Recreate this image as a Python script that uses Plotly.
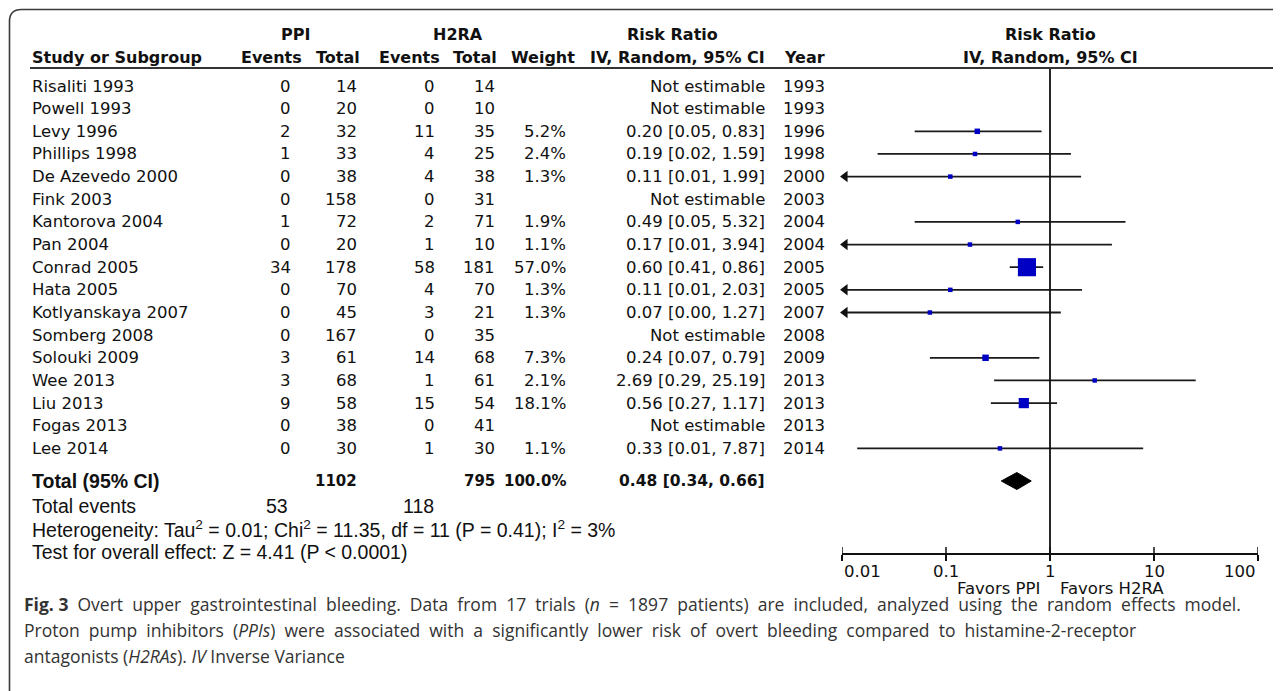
import math
import plotly.graph_objects as go

# page body adds an 8px margin; figure is sized to fill the rest of the 1281x691 window
OX, OY = 8, 8
W, H = 1281 - OX, 691 - OY

# ---------------- data ----------------
studies = ["Risaliti 1993", "Powell 1993", "Levy 1996", "Phillips 1998", "De Azevedo 2000",
           "Fink 2003", "Kantorova 2004", "Pan 2004", "Conrad 2005", "Hata 2005",
           "Kotlyanskaya 2007", "Somberg 2008", "Solouki 2009", "Wee 2013", "Liu 2013",
           "Fogas 2013", "Lee 2014"]
ppi_events = [0, 0, 2, 1, 0, 0, 1, 0, 34, 0, 0, 0, 3, 3, 9, 0, 0]
ppi_total = [14, 20, 32, 33, 38, 158, 72, 20, 178, 70, 45, 167, 61, 68, 58, 38, 30]
h2ra_events = [0, 0, 11, 4, 4, 0, 2, 1, 58, 4, 3, 0, 14, 1, 15, 0, 1]
h2ra_total = [14, 10, 35, 25, 38, 31, 71, 10, 181, 70, 21, 35, 68, 61, 54, 41, 30]
weights = [None, None, 5.2, 2.4, 1.3, None, 1.9, 1.1, 57.0, 1.3, 1.3, None, 7.3, 2.1, 18.1, None, 1.1]
rr = [None, None, 0.20, 0.19, 0.11, None, 0.49, 0.17, 0.60, 0.11, 0.07, None, 0.24, 2.69, 0.56, None, 0.33]
ci_low = [None, None, 0.05, 0.022, 0.006, None, 0.05, 0.007, 0.41, 0.006, 0.004, None, 0.07, 0.29, 0.27, None, 0.014]
ci_high = [None, None, 0.83, 1.59, 1.99, None, 5.32, 3.94, 0.86, 2.03, 1.27, None, 0.79, 25.19, 1.17, None, 7.87]
years = [1993, 1993, 1996, 1998, 2000, 2003, 2004, 2004, 2005, 2005, 2007, 2008, 2009, 2013, 2013, 2013, 2014]

total_ppi, total_h2ra = 1102, 795
total_weight = 100.0
pooled_rr, pooled_lo, pooled_hi = 0.48, 0.34, 0.66
events_ppi, events_h2ra = 53, 118
tick_vals = [0.01, 0.1, 1, 10, 100]
tick_text = ["0.01", "0.1", "1", "10", "100"]

# ---------------- layout helpers (window pixel coordinates) ----------------
ROW0, DY = 86, 22.65
row_y = [ROW0 + DY * i for i in range(len(studies))]
Y_TOTAL = row_y[-1] + 32.6
Y_EVENTS, Y_HET, Y_TEST = Y_TOTAL + 25, Y_TOTAL + 48, Y_TOTAL + 71
Y_HEAD1, Y_HEAD2, Y_RULE = 34, 57, 68
AXIS_Y = 554
X_MIN, X_MAX = 842, 1258

TXT = "#111111"
FONT = "DejaVu Sans"
FS = 16.5
FSB = 16
NARROW = "Liberation Sans"
NFS = 19.5


def px(x):
    return (x - OX) / W


annotations = []


def txt(x, y, s, anchor="right", bold=False, family=FONT, size=FS, color=TXT, xref="paper"):
    if bold:
        s = "<b>" + s + "</b>"
    annotations.append(dict(x=px(x) if xref == "paper" else x, y=y, xref=xref, yref="y", text=s,
                            showarrow=False, xanchor=anchor, yanchor="middle",
                            font=dict(family=family, size=size, color=color)))


# column right edges
C_EV1, C_TOT1, C_EV2, C_TOT2, C_W, C_RR, C_YR = 293, 359, 437, 497, 568, 767, 827
C_NAME = 30

# headers
txt(295, Y_HEAD1, "PPI", "center", True, size=FSB)
txt(458, Y_HEAD1, "H2RA", "center", True, size=FSB)
txt(673, Y_HEAD1, "Risk Ratio", "center", True, size=FSB)
txt(1050, Y_HEAD1, "Risk Ratio", "center", True, size=FSB)
txt(C_NAME, Y_HEAD2, "Study or Subgroup", "left", True, size=FSB)
txt(304, Y_HEAD2, "Events", "right", True, size=FSB)
txt(362, Y_HEAD2, "Total", "right", True, size=FSB)
txt(442, Y_HEAD2, "Events", "right", True, size=FSB)
txt(499, Y_HEAD2, "Total", "right", True, size=FSB)
txt(577, Y_HEAD2, "Weight", "right", True, size=FSB)
txt(C_RR, Y_HEAD2, "IV, Random, 95% CI", "right", True, size=FSB)
txt(C_YR, Y_HEAD2, "Year", "right", True, size=FSB)
txt(1050, Y_HEAD2, "IV, Random, 95% CI", "center", True, size=FSB)

# rows
for i, name in enumerate(studies):
    y = row_y[i]
    txt(C_NAME, y, name, "left")
    txt(C_EV1, y, str(ppi_events[i]))
    txt(C_TOT1, y, str(ppi_total[i]))
    txt(C_EV2, y, str(h2ra_events[i]))
    txt(C_TOT2, y, str(h2ra_total[i]))
    if weights[i] is not None:
        txt(C_W, y, f"{weights[i]:.1f}%")
        txt(C_RR, y, f"{rr[i]:.2f} [{ci_low[i]:.2f}, {ci_high[i]:.2f}]")
    else:
        txt(C_RR, y, "Not estimable")
    txt(C_YR, y, str(years[i]))

# totals
txt(C_NAME, Y_TOTAL, "Total (95% CI)", "left", True, family=NARROW, size=NFS)
txt(C_TOT1, Y_TOTAL, str(total_ppi), "right", True, size=15)
txt(C_TOT2, Y_TOTAL, str(total_h2ra), "right", True, size=15)
txt(C_W, Y_TOTAL, f"{total_weight:.1f}%", "right", True, size=15)
txt(C_RR, Y_TOTAL, f"{pooled_rr:.2f} [{pooled_lo:.2f}, {pooled_hi:.2f}]", "right", True, size=15.5)
txt(C_NAME, Y_EVENTS, "Total events", "left", family=NARROW, size=NFS)
txt(290, Y_EVENTS, str(events_ppi), "right", family=NARROW, size=NFS)
txt(436, Y_EVENTS, str(events_h2ra), "right", family=NARROW, size=NFS)
txt(C_NAME, Y_HET, "Heterogeneity: Tau<sup>2</sup> = 0.01; Chi<sup>2</sup> = 11.35, df = 11 (P = 0.41); I<sup>2</sup> = 3%",
    "left", family=NARROW, size=NFS)
txt(C_NAME, Y_TEST, "Test for overall effect: Z = 4.41 (P < 0.0001)", "left", family=NARROW, size=NFS)

# axis tick labels (end labels are aligned inward, as in the original);
# annotation x on a log axis is given in log10 units
Y_TICKLAB = 571
for k, (tv, tt) in enumerate(zip(tick_vals, tick_text)):
    anc = "left" if k == 0 else ("right" if k == len(tick_vals) - 1 else "center")
    txt(math.log10(tv), Y_TICKLAB, tt, anc, xref="x")

# favours labels
txt(1042, 588, "Favors PPI", "right")
txt(1058, 588, "Favors H2RA", "left")

# caption (first two lines justified in the original: widen word gaps)
CAP = "Open Sans"
CAPC = "#333333"
CFS = 17.5


def justify(s):
    return s.replace(" ", " &nbsp;")


txt(22, 604, justify("<b>Fig.</b>") + " " + justify("<b>3</b> Overt upper gastrointestinal bleeding. Data from 17 trials (<i>n</i> = 1897 patients) are included, analyzed using the random effects model."),
    "left", family=CAP, size=CFS, color=CAPC)
txt(22, 630, justify("Proton pump inhibitors (<i>PPIs</i>) were associated with a significantly lower risk of overt bleeding compared to histamine-2-receptor"),
    "left", family=CAP, size=CFS, color=CAPC)
txt(22, 656, "antagonists (<i>H2RAs</i>). <i>IV</i> Inverse Variance",
    "left", family=CAP, size=CFS, color=CAPC)

# ---------------- traces ----------------
fig = go.Figure()
est_idx = [i for i in range(len(studies)) if rr[i] is not None]

# CI lines
lx, ly = [], []
for i in est_idx:
    lo = max(ci_low[i], tick_vals[0])
    lx += [lo, ci_high[i], None]
    ly += [row_y[i], row_y[i], None]
fig.add_trace(go.Scatter(x=lx, y=ly, mode="lines", line=dict(color="#1a1a1a", width=1.8),
                         hoverinfo="skip", showlegend=False))

# arrows for truncated CIs
ax_ = [tick_vals[0] * 1.07 for i in est_idx if ci_low[i] < tick_vals[0]]
ay_ = [row_y[i] for i in est_idx if ci_low[i] < tick_vals[0]]
fig.add_trace(go.Scatter(x=ax_, y=ay_, mode="markers",
                         marker=dict(symbol="triangle-left", size=10, color="#111111", opacity=1),
                         cliponaxis=False, hoverinfo="skip", showlegend=False))

# squares
sizes = [max(4.5, 2.4 * weights[i] ** 0.5) for i in est_idx]
fig.add_trace(go.Scatter(x=[rr[i] for i in est_idx], y=[row_y[i] for i in est_idx], mode="markers",
                         marker=dict(symbol="square", size=sizes, color="#0000c4", opacity=1,
                                     line=dict(width=0)),
                         cliponaxis=False, hoverinfo="skip", showlegend=False))

# pooled diamond
DH = 8.5
fig.add_trace(go.Scatter(x=[pooled_lo, pooled_rr, pooled_hi, pooled_rr, pooled_lo],
                         y=[Y_TOTAL, Y_TOTAL - DH, Y_TOTAL, Y_TOTAL + DH, Y_TOTAL],
                         mode="lines", fill="toself", fillcolor="#000000",
                         line=dict(color="#000000", width=1), hoverinfo="skip", showlegend=False))

# ---------------- shapes ----------------
shapes = []
shapes.append(dict(type="line", xref="x", yref="y", x0=1, x1=1, y0=Y_RULE, y1=AXIS_Y,
                   line=dict(color="#111111", width=1.8)))
shapes.append(dict(type="line", xref="paper", yref="y", x0=px(30), x1=px(1275), y0=Y_RULE, y1=Y_RULE,
                   line=dict(color="#333333", width=2)))
for tv in tick_vals:
    shapes.append(dict(type="line", xref="x", yref="y", x0=tv, x1=tv, y0=AXIS_Y - 7, y1=AXIS_Y,
                       line=dict(color="#111111", width=1.5)))
# rounded outer frame
r = 12
L, T, R_, B = 9.5, 9.5, 1281 + 30, 691 + 30


def P(x, y):
    return f"{(x - OX) / W:.5f},{1 - (y - OY) / H:.5f}"


path = f"M {P(L, B)} L {P(L, T + r)} Q {P(L, T)} {P(L + r, T)} L {P(R_, T)}"
shapes.append(dict(type="path", xref="paper", yref="paper", path=path,
                   line=dict(color="#3a3a3a", width=1.6)))

fig.update_layout(
    width=W, height=H,
    margin=dict(l=0, r=0, t=0, b=0, pad=0, autoexpand=False),
    paper_bgcolor="white", plot_bgcolor="rgba(0,0,0,0)",
    showlegend=False,
    annotations=annotations,
    shapes=shapes,
    xaxis=dict(type="log", domain=[px(X_MIN), px(X_MAX)], range=[-2, 2],
               anchor="free", position=(OY + H - AXIS_Y) / H, automargin=False,
               showgrid=False, zeroline=False, showline=True, linecolor="#111111", linewidth=1.5,
               ticks="outside", ticklen=6, tickwidth=1.5, tickcolor="#111111",
               tickvals=tick_vals, showticklabels=False),
    yaxis=dict(domain=[0, 1], range=[OY + H, OY], visible=False, showgrid=False, zeroline=False,
               automargin=False),
)

fig.write_html("out.html")
